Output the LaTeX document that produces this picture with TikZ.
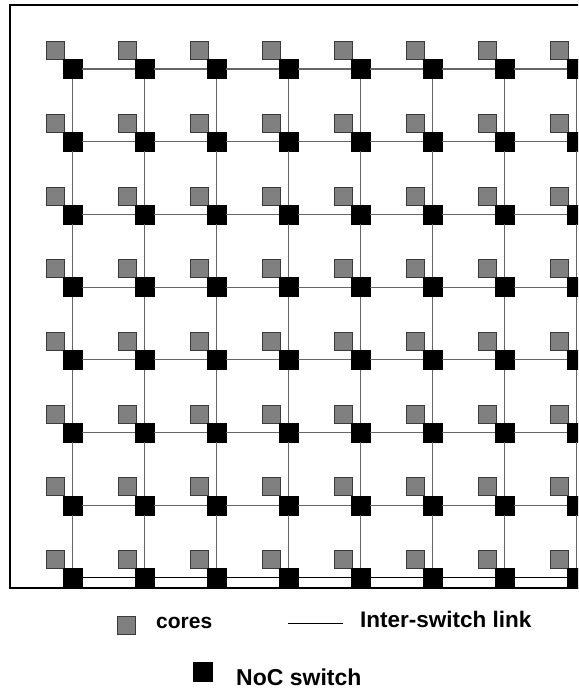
\documentclass[tikz,border=0pt]{standalone}
\usepackage{fontspec}
\setmainfont{Liberation Sans}
\usetikzlibrary{positioning}
\usepackage{xcolor}
\definecolor{coregrey}{HTML}{808080}
\definecolor{edgegrey}{HTML}{3A3A3A}
\definecolor{linkgrey}{HTML}{666666}

\begin{document}
\begin{tikzpicture}[
        x=1pt, y=-1pt,
        core/.style={draw=edgegrey, fill=coregrey, line width=0.8pt,
          minimum size=18pt, inner sep=0pt},
        switch/.style={draw=black, fill=black, minimum size=19pt, inner sep=0pt},
        link/.style={draw=linkgrey, line width=1.1pt},
        linkB/.style={draw=black, line width=1.1pt},
        frame/.style={draw=black, line width=1.3pt},
        keylbl/.style={font=\bfseries, inner sep=0pt, anchor=base west},
      ]
      \useasboundingbox (0,0) rectangle (578,690);
      \clip (0,0) rectangle (578,690);

      % === chip outline ===
      \draw[frame] (590,5) -| (10,588) -- (590,588);

      % === cores and switches ===
      \foreach \i in {0,...,7} {
        \foreach \j in {0,...,7} {
          \node[core] (c-\i-\j) at ({55+72*\i}, {50.5+72.7*\j}) {};
        }
      }
      \foreach \i in {0,...,7} {
        \foreach \j in {0,...,7} {
          \node[switch] (sw-\i-\j) at ({72.5+72*\i}, {69+72.7*\j}) {};
        }
      }

      % === inter-switch links ===
      \foreach \i [evaluate=\i as \k using int(\i+1)] in {0,...,6} {
        \foreach \j in {0,...,6} {
          \draw[link] (sw-\i-\j) -- (sw-\k-\j);
        }
        \draw[linkB] (sw-\i-7) -- (sw-\k-7);
      }
      \foreach \i in {0,...,7} {
        \foreach \j [evaluate=\j as \k using int(\j+1)] in {0,...,6} {
          \draw[link] (sw-\i-\j) -- (sw-\i-\k);
        }
      }

      % === legend ===
      \node[core] (keycore) at (126.5, 625.5) {};
      \node[keylbl, font=\fontsize{21}{24}\selectfont\bfseries] (keycorelbl) at (156, 628) {cores};

      \coordinate (keylinkA) at (288, 623);
      \coordinate (keylinkB) at (343, 623);
      \draw[draw=black, line width=0.8pt] (keylinkA) -- (keylinkB);
      \node[keylbl, font=\fontsize{22.5}{26}\selectfont\bfseries] (keylinklbl) at (360, 627) {Inter-switch link};

      \node[switch] (keyswitch) at (203, 672) {};
      \node[keylbl, font=\fontsize{23}{27}\selectfont\bfseries] (keyswitchlbl) at (236, 685.5) {NoC switch};

\end{tikzpicture}
\end{document}
